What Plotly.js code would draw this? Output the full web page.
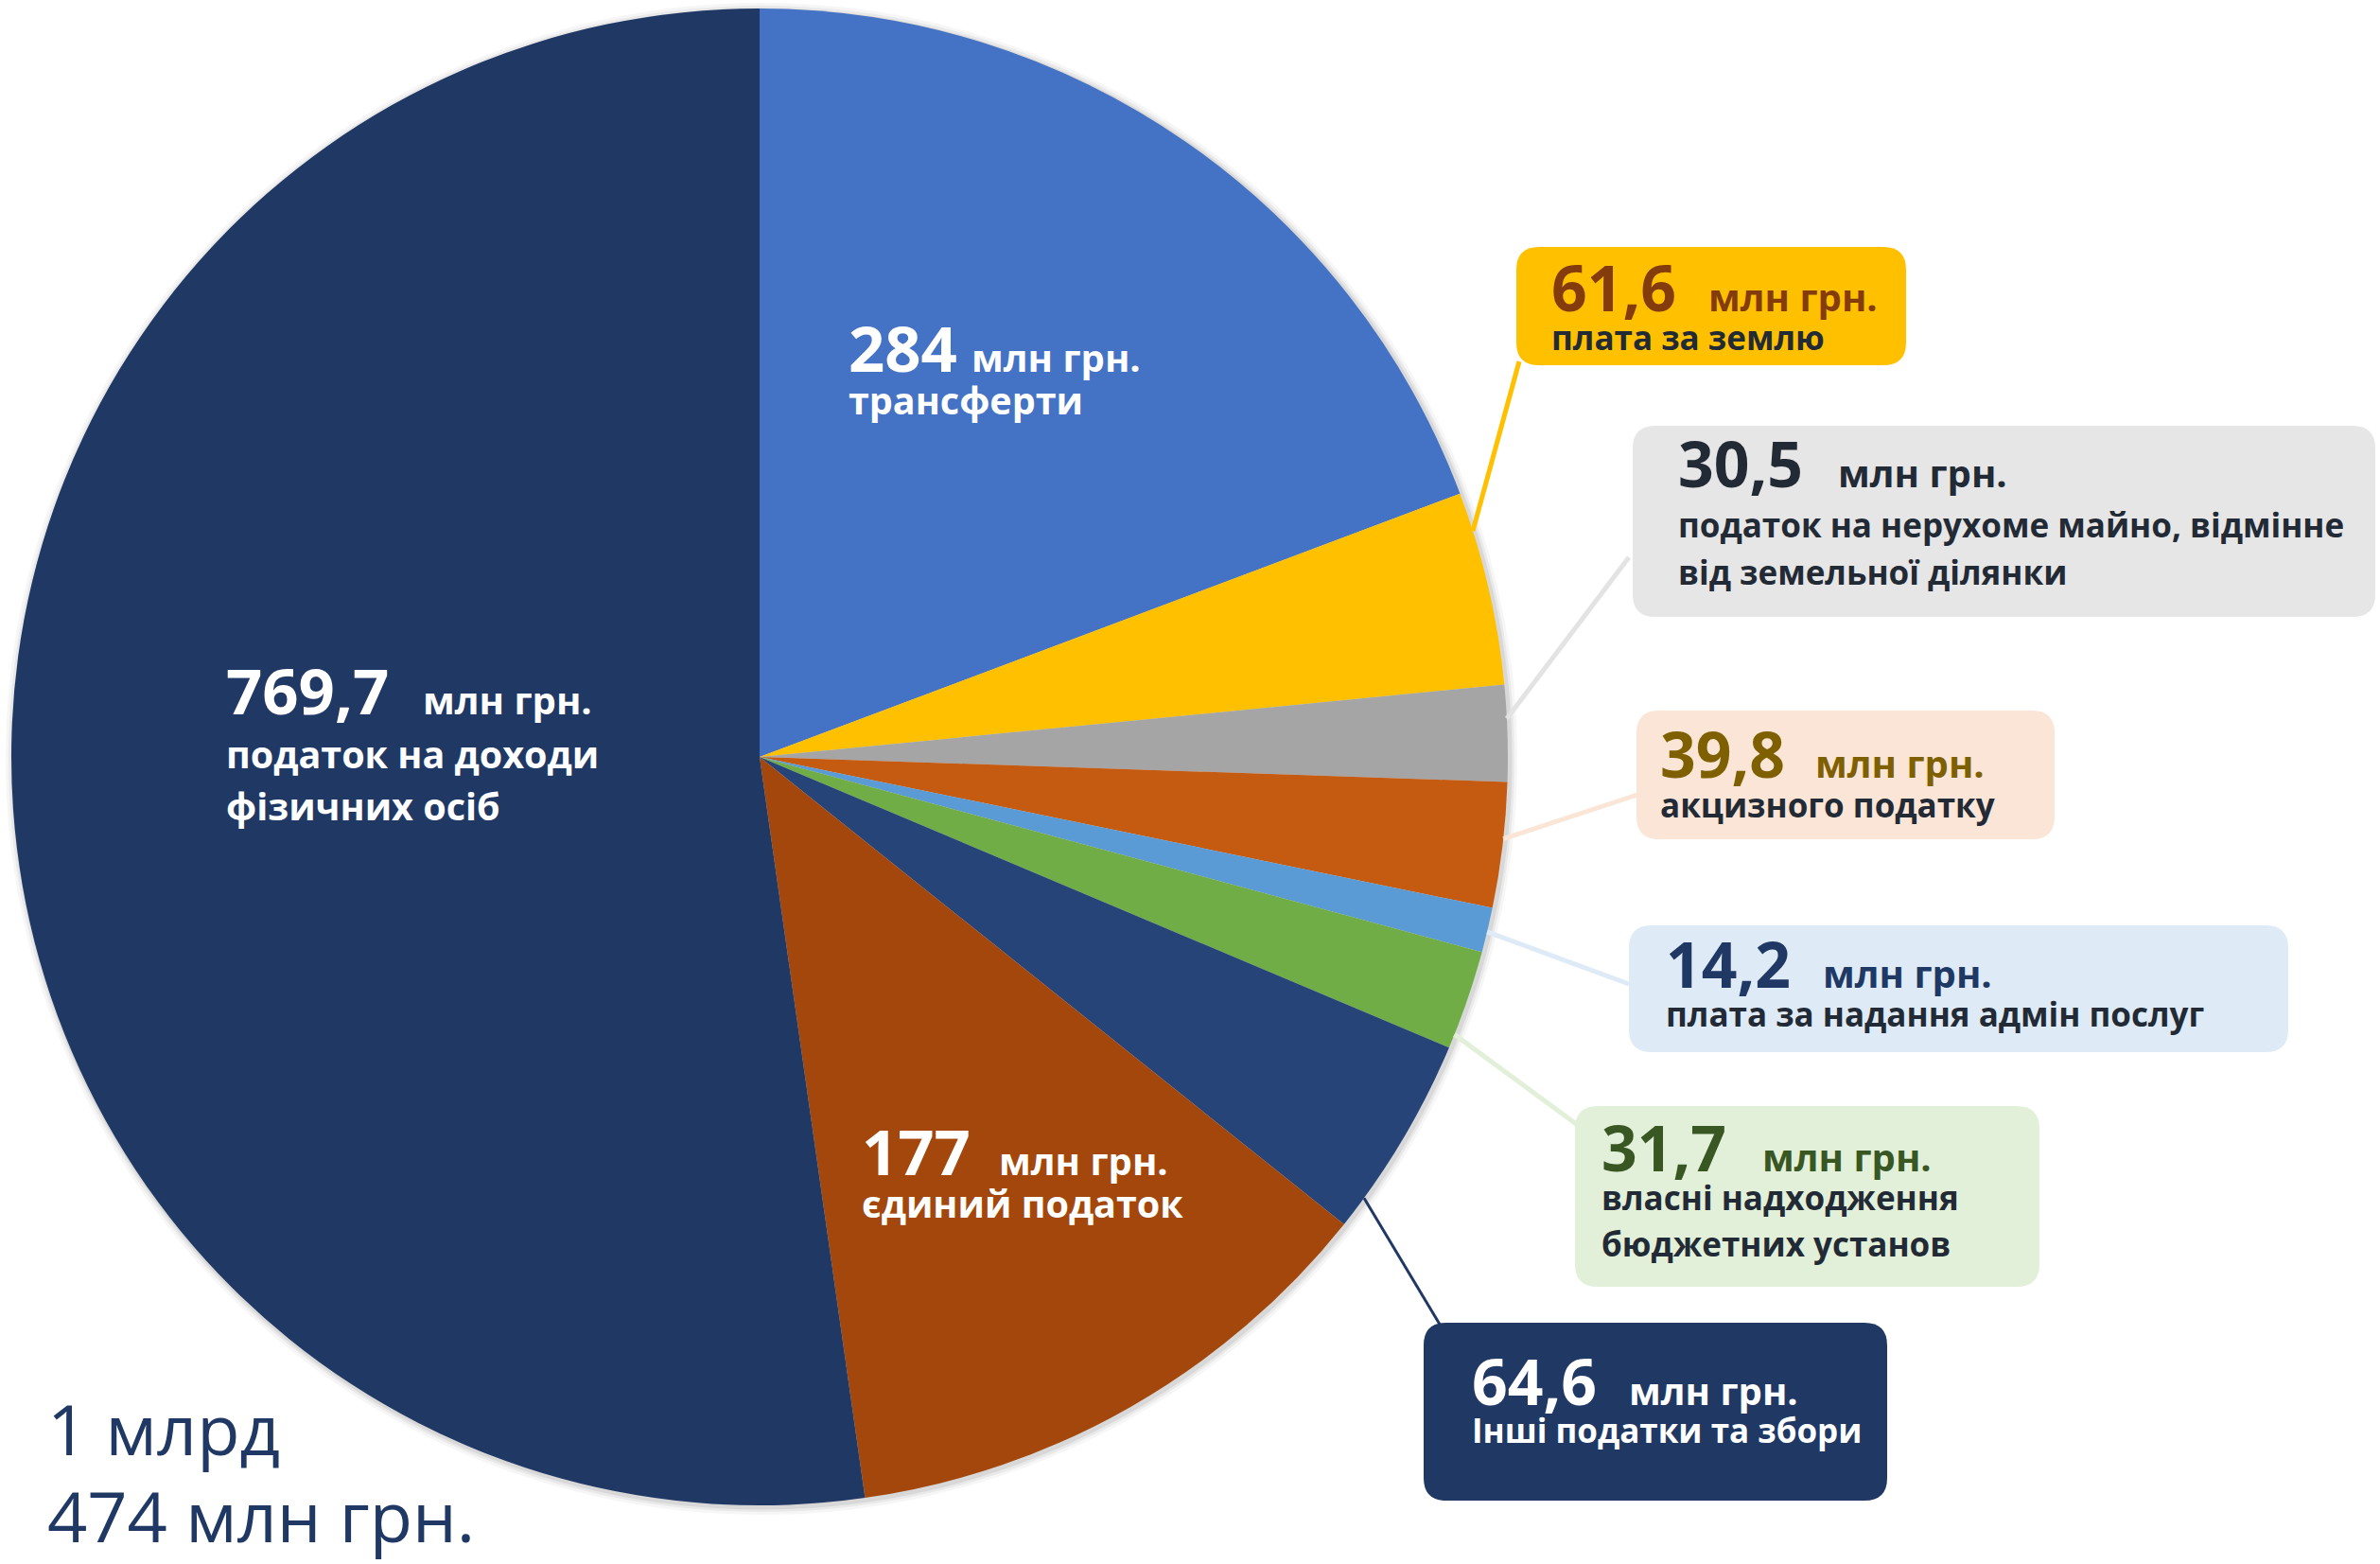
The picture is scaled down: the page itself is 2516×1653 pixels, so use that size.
<!DOCTYPE html>
<html>
<head>
<meta charset="utf-8">
<script src="https://cdn.plot.ly/plotly-3.0.1.min.js"></script>
<style>html,body{margin:0;padding:0;background:#fff;} #chart{width:2516px;height:1653px;}</style>
</head>
<body>
<div id="chart"></div>
<script>
// ---- data ----
const categories = [
  'трансферти',
  'плата за землю',
  'податок на нерухоме майно, відмінне від земельної ділянки',
  'акцизного податку',
  'плата за надання адмін послуг',
  'власні надходження бюджетних установ',
  'Інші податки та збори',
  'єдиний податок',
  'податок на доходи фізичних осіб'
];
const values = [284, 61.6, 30.5, 39.8, 14.2, 31.7, 64.6, 177, 769.7];
const labelLines = [
  ['трансферти'],
  ['плата за землю'],
  ['податок на нерухоме майно, відмінне', 'від земельної ділянки'],
  ['акцизного податку'],
  ['плата за надання адмін послуг'],
  ['власні надходження', 'бюджетних установ'],
  ['Інші податки та збори'],
  ['єдиний податок'],
  ['податок на доходи', 'фізичних осіб']
];
const unitText = 'млн грн.';
const totalLines = ['1 млрд', '474 млн грн.'];

// ---- styling ----
const W = 2516, H = 1653;
const sliceColors = ['#4472C4', '#FFC000', '#A5A5A5', '#C55A11', '#5B9BD5', '#70AD47', '#264478', '#A3470C', '#203864'];
const CX = 803, CY = 800, R = 791;
const FONT = 'Open Sans, Noto Sans, sans-serif';
const DESC = 0.293; // descent ratio of Open Sans
const px = x => x / W, py = y => 1 - y / H;

// label styles: box, text positions (pixels), colours
const labelStyle = [
  {inside: true, x: 897, base: 393, ux: 1027, lines: [438], numColor: '#fff', txtColor: '#fff'},
  {box: [1603, 261, 2015, 386], fill: '#FFC000', x: 1640, base: 329, ux: 1806, lines: [370], numColor: '#843C0C', txtColor: '#222A35',
   leader: {frac: 0.2, to: [1606, 382], color: '#FFC000', width: 5}},
  {box: [1726, 450, 2511, 652], fill: '#E7E6E6', x: 1774, base: 515, ux: 1943, lines: [568, 618], numColor: '#222A35', txtColor: '#222A35',
   leader: {frac: 0.35, to: [1722, 589], color: '#E3E3E3', width: 5}},
  {box: [1730, 751, 2172, 887], fill: '#FBE5D6', x: 1755, base: 822, ux: 1919, lines: [864], numColor: '#7F6000', txtColor: '#222A35',
   leader: {frac: 0.45, to: [1734, 839], color: '#FBE5D6', width: 5}},
  {box: [1722, 978, 2419, 1112], fill: '#DEEBF7', x: 1761, base: 1044, ux: 1927, lines: [1085], numColor: '#203864', txtColor: '#222A35',
   leader: {frac: 0.54, to: [1722, 1040], color: '#DEEBF7', width: 5}},
  {box: [1665, 1169, 2156, 1360], fill: '#E2F0D9', x: 1693, base: 1238, ux: 1863, lines: [1279, 1328], numColor: '#385723', txtColor: '#222A35',
   leader: {frac: 0.86, to: [1669, 1190], color: '#E2F0D9', width: 5}},
  {box: [1505, 1398, 1995, 1586], fill: '#203864', x: 1556, base: 1485, ux: 1722, lines: [1525], numColor: '#fff', txtColor: '#fff',
   leader: {frac: 0.84, to: [1524, 1403], color: '#203864', width: 3}},
  {inside: true, x: 911, base: 1242, ux: 1056, lines: [1287], numColor: '#fff', txtColor: '#fff'},
  {inside: true, x: 239, base: 755, ux: 447, lines: [812, 867], numColor: '#fff', txtColor: '#fff'}
];

const shapes = [];
const annotations = [];

function roundRect(x0, y0, x1, y1, r) {
  const p = (x, y) => px(x) + ',' + py(y);
  return 'M' + p(x0 + r, y0) + ' L' + p(x1 - r, y0) + ' Q' + p(x1, y0) + ' ' + p(x1, y0 + r) +
    ' L' + p(x1, y1 - r) + ' Q' + p(x1, y1) + ' ' + p(x1 - r, y1) +
    ' L' + p(x0 + r, y1) + ' Q' + p(x0, y1) + ' ' + p(x0, y1 - r) +
    ' L' + p(x0, y0 + r) + ' Q' + p(x0, y0) + ' ' + p(x0 + r, y0) + ' Z';
}
function addText(text, x, baseline, size, color, weight) {
  annotations.push({
    xref: 'paper', yref: 'paper', x: px(x), y: py(baseline + DESC * size),
    xanchor: 'left', yanchor: 'bottom', showarrow: false, align: 'left',
    text: text, borderpad: 0, borderwidth: 0,
    font: {family: FONT, size: size, color: color, weight: weight}
  });
}

// soft shadow behind pie
[[8, 0.035], [5, 0.05], [2.5, 0.07]].forEach(([d, a]) => {
  shapes.push({type: 'circle', xref: 'paper', yref: 'paper', layer: 'below',
    x0: px(CX - R - d + 2), x1: px(CX + R + d + 2), y0: py(CY + R + d + 2), y1: py(CY - R - d + 2),
    fillcolor: 'rgba(0,0,0,' + a + ')', line: {width: 0}});
});

const total = values.reduce((a, b) => a + b, 0);
let cum = 0;
values.forEach((v, i) => {
  const st = labelStyle[i];
  const numStr = String(v).replace('.', ',');
  if (st.box) {
    const [x0, y0, x1, y1] = st.box;
    shapes.push({type: 'path', xref: 'paper', yref: 'paper', path: roundRect(x0, y0, x1, y1, 24),
      fillcolor: st.fill, line: {width: 0}});
  }
  if (st.leader) {
    const ang = (cum + st.leader.frac * v) / total * 2 * Math.PI;
    const ex = CX + R * Math.sin(ang), ey = CY - R * Math.cos(ang);
    shapes.push({type: 'line', xref: 'paper', yref: 'paper',
      x0: px(ex), y0: py(ey), x1: px(st.leader.to[0]), y1: py(st.leader.to[1]),
      line: {color: st.leader.color, width: st.leader.width}});
  }
  const numSize = st.inside ? 67 : 66;
  const txtSize = st.inside ? 39.5 : 35;
  addText(numStr, st.x, st.base, numSize, st.numColor, 'bold');
  addText(unitText, st.ux, st.base, 40, st.numColor, 'bold');
  labelLines[i].forEach((ln, k) => addText(ln, st.x, st.lines[k], txtSize, st.txtColor, 'bold'));
  cum += v;
});

addText(totalLines[0], 50, 1538, 74, '#203864', 'normal');
addText(totalLines[1], 50, 1630, 74, '#203864', 'normal');

const trace = {
  type: 'pie',
  labels: categories,
  values: values,
  sort: false,
  direction: 'clockwise',
  rotation: 0,
  textinfo: 'none',
  hoverinfo: 'label+value',
  marker: {colors: sliceColors, line: {width: 0}},
  domain: {x: [px(CX - R), px(CX + R)], y: [py(CY + R), py(CY - R)]},
  showlegend: false
};

const layout = {
  width: W, height: H,
  margin: {l: 0, r: 0, t: 0, b: 0, pad: 0},
  paper_bgcolor: '#ffffff',
  plot_bgcolor: '#ffffff',
  showlegend: false,
  shapes: shapes,
  annotations: annotations
};

Plotly.newPlot('chart', [trace], layout, {displayModeBar: false, staticPlot: true});
</script>
</body>
</html>
